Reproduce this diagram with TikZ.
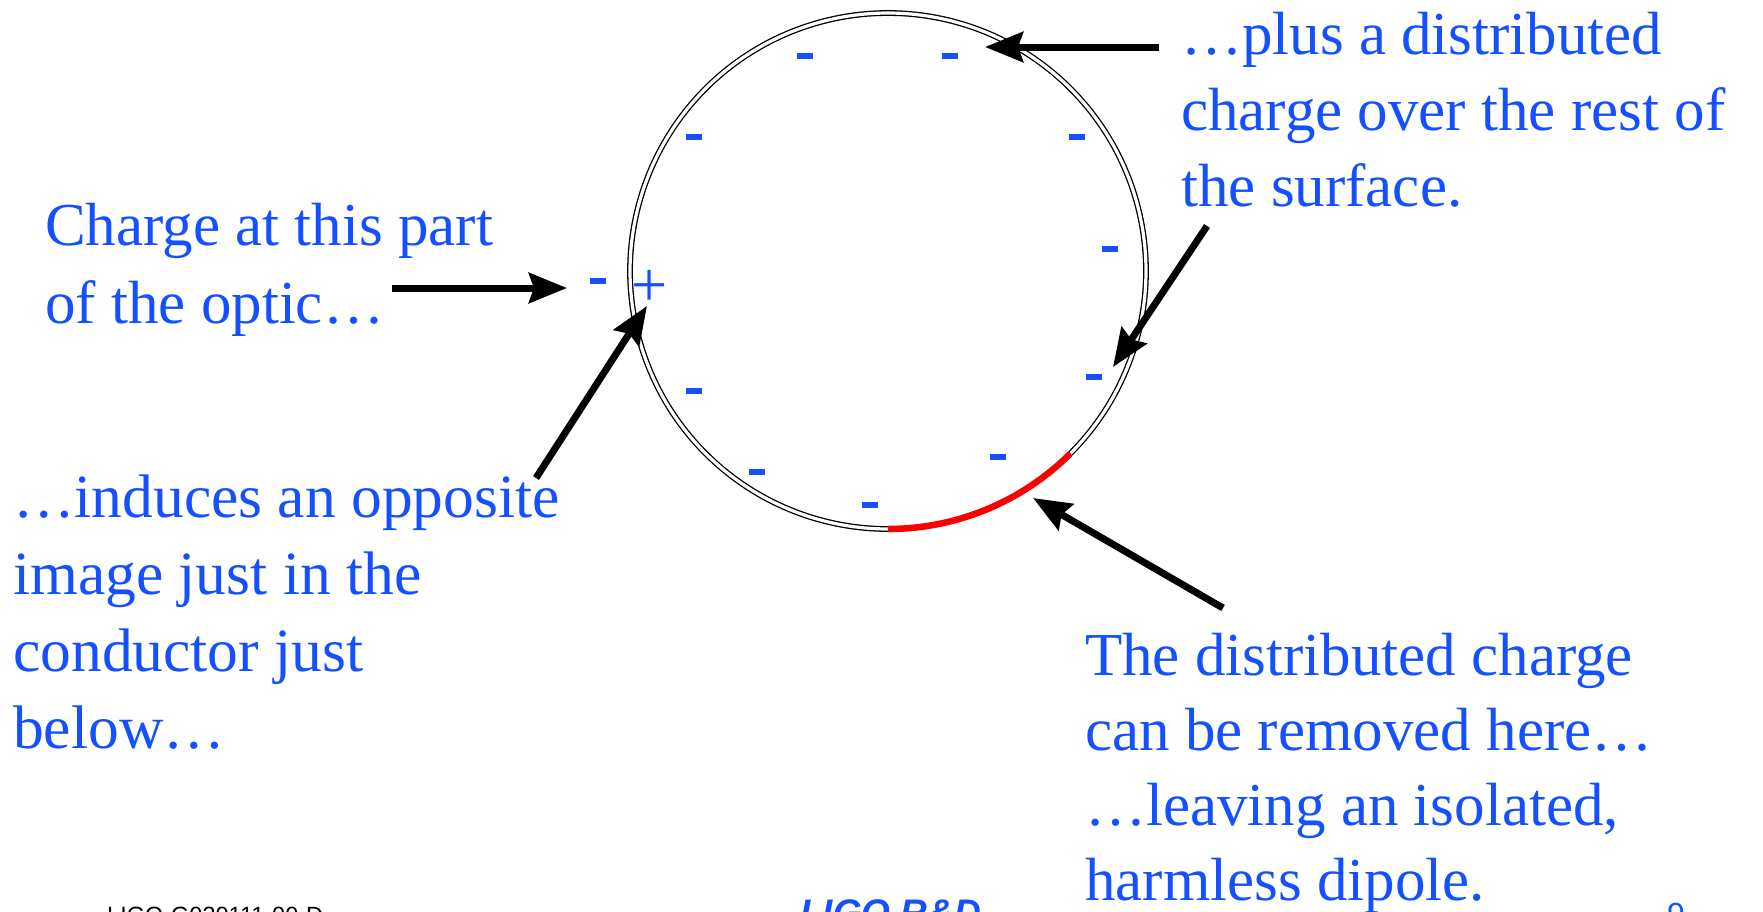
\documentclass[tikz,border=0pt]{standalone}
\usepackage{fontspec}
\setmainfont{Liberation Serif}
\newfontfamily\footfont{Liberation Sans}
\usetikzlibrary{arrows.meta}
\definecolor{chblue}{RGB}{20,80,255}
\definecolor{cutred}{RGB}{250,0,0}
\begin{document}
\begin{tikzpicture}[x=1pt,y=-1pt,
  lbl/.style={anchor=base west, inner sep=0pt, text=chblue},
  neg/.style={rectangle, fill=chblue, minimum width=16pt, minimum height=5.5pt, inner sep=0pt},
  ptr/.style={line width=7pt, -{Stealth[length=38pt,width=30pt,inset=5pt]}},
  foot/.style={anchor=base west, inner sep=0pt},
]
\useasboundingbox (0,0) rectangle (1763,911);
\clip (0,0) rectangle (1763,911);
\fill[white] (0,0) rectangle (1763,911);

% optic surface (double line) and the red removal region
\draw[double=white, double distance=3.2pt, line width=1.3pt]
  plot[domain=90:405, samples=240] ({888+258*cos(\x)}, {271+258*sin(\x)});
\draw[cutred, line width=6.5pt]
  plot[domain=45:90, samples=60] ({888+258*cos(\x)}, {271+258*sin(\x)});

% charges
\node[neg] (m1) at (805,56) {};
\node[neg] (m2) at (950,56) {};
\node[neg] (m3) at (694,137) {};
\node[neg] (m4) at (1077,137) {};
\node[neg] (m5) at (1110,249) {};
\node[neg] (m6) at (598,281) {};
\node[neg] (m7) at (1094,377) {};
\node[neg] (m8) at (694,391) {};
\node[neg] (m9) at (757,472) {};
\node[neg] (m10) at (998,457) {};
\node[neg] (m11) at (870,505) {};
\node[inner sep=0pt, text=chblue, font=\fontsize{64}{68}\selectfont] (plus) at (650,288) {+};

% labels
\node[lbl] (t1) at (45,245) {\parbox[t]{700pt}{\fontsize{61}{78}\selectfont Charge at this part\\of the optic…}};
\node[lbl] (t2) at (1181,54) {\parbox[t]{700pt}{\fontsize{61}{76}\selectfont …plus a distributed\\charge over the rest of\\the surface.}};
\node[lbl] (t3) at (13,517) {\parbox[t]{700pt}{\fontsize{61.5}{77}\selectfont …induces an opposite\\image just in the\\conductor just\\below…}};
\node[lbl] (t4) at (1085,675) {\parbox[t]{700pt}{\fontsize{61}{75}\selectfont The distributed charge\\can be removed here…\\…leaving an isolated,\\harmless dipole.}};

% arrows
\coordinate (a1s) at (392,288); \coordinate (a1e) at (567,288);
\coordinate (a2s) at (1159,47); \coordinate (a2e) at (985,47);
\coordinate (a3s) at (1207,226); \coordinate (a3e) at (1113,367);
\coordinate (a4s) at (536,478); \coordinate (a4e) at (647,306);
\coordinate (a5s) at (1223,608); \coordinate (a5e) at (1033,498);
\draw[ptr] (a1s) -- (a1e);
\draw[ptr] (a2s) -- (a2e);
\draw[ptr] (a3s) -- (a3e);
\draw[ptr] (a4s) -- (a4e);
\draw[ptr] (a5s) -- (a5e);

% footer (cut off at the bottom edge, as in the reference)
\node[foot, font=\footfont\fontsize{23.5}{28}\selectfont] (f1) at (107,923) {LIGO-G030111-00-D};
\node[foot, text=chblue, font=\footfont\bfseries\itshape\fontsize{37}{44}\selectfont] (f2) at (800,925) {LIGO R\&D};
\node[foot, text=chblue, font=\footfont\fontsize{32}{38}\selectfont] (f3) at (1667,925) {9};
\end{tikzpicture}
\end{document}
